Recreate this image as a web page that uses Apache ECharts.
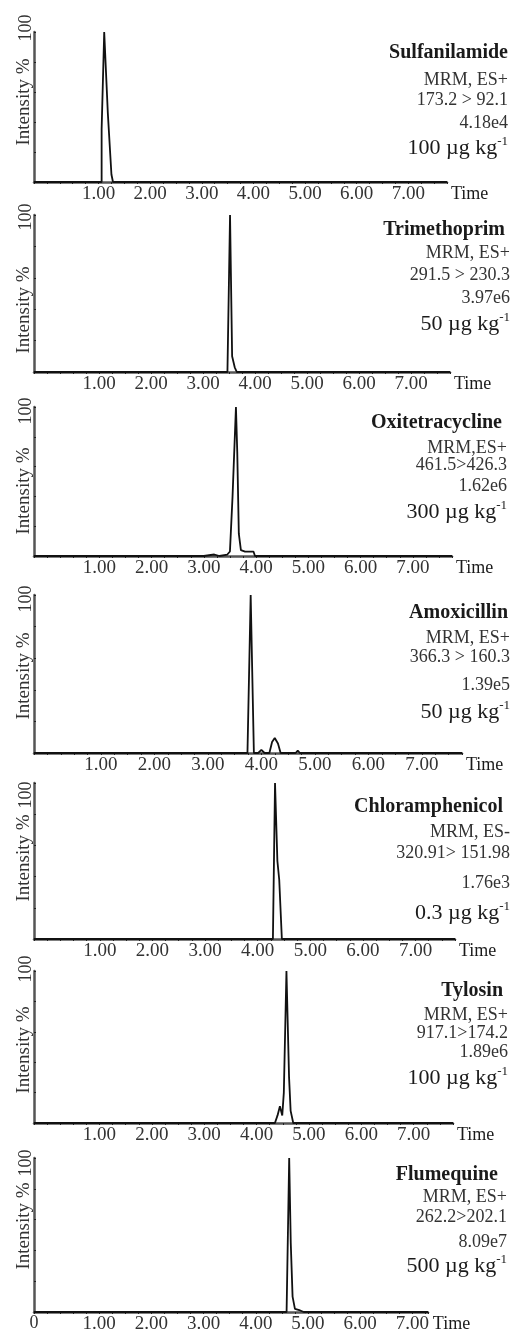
<!DOCTYPE html>
<html><head><meta charset="utf-8">
<script src="https://cdn.jsdelivr.net/npm/echarts@6/dist/echarts.min.js"></script>
<style>html,body{margin:0;padding:0;background:#fff}#c{width:517px;height:1334px}</style>
</head><body><div id="c"></div>
<script>
// ---- text content ----
const compounds = ['Sulfanilamide', 'Trimethoprim', 'Oxitetracycline', 'Amoxicillin', 'Chloramphenicol', 'Tylosin', 'Flumequine'];
const modes = ['MRM, ES+', 'MRM, ES+', 'MRM,ES+', 'MRM, ES+', 'MRM, ES-', 'MRM, ES+', 'MRM, ES+'];
const transitions = ['173.2 > 92.1', '291.5 > 230.3', '461.5>426.3', '366.3 > 160.3', '320.91> 151.98', '917.1>174.2', '262.2>202.1'];
const intensities = ['4.18e4', '3.97e6', '1.62e6', '1.39e5', '1.76e3', '1.89e6', '8.09e7'];
const concentrations = ['100', '50', '300', '50', '0.3', '100', '500'];
const xTickValues = [1, 2, 3, 4, 5, 6, 7];
const yTopLabel = '100';
const yAxisTitle = 'Intensity %';
const xAxisTitle = 'Time';

// ---- chromatogram traces (time, % intensity) ----
const sulfanilamideTime = [-0.25, 1.06, 1.06, 1.11, 1.14, 1.18, 1.25, 1.28, 7.75];
const sulfanilamideInt  = [0, 0, 35, 100, 100, 46, 5, 0, 0];
const trimethoprimTime = [-0.25, 3.47, 3.52, 3.56, 3.59, 3.61, 3.65, 7.75];
const trimethoprimInt  = [0, 0, 100, 10, 9, 3, 0, 0];
const oxitetracyclineTime = [-0.25, 3.00, 3.20, 3.30, 3.45, 3.50, 3.55, 3.615, 3.64, 3.67, 3.71, 3.79, 3.95, 3.98, 7.75];
const oxitetracyclineInt  = [0, 0, 1, 0, 1, 3, 40, 100, 70, 15, 4, 3, 3, 0, 0];
const amoxicillinTime = [-0.25, 3.74, 3.80, 3.86, 3.94, 4.00, 4.06, 4.15, 4.20, 4.25, 4.31, 4.36, 4.64, 4.68, 4.72, 7.75];
const amoxicillinInt  = [0, 0, 100, 0, 0, 2, 0, 0, 7, 9.5, 6, 0, 0, 1.5, 0, 0];
const chloramphenicolTime = [-0.25, 4.29, 4.31, 4.33, 4.375, 4.41, 4.46, 7.75];
const chloramphenicolInt  = [0, 0, 50, 100, 50, 38, 0, 0];
const tylosinTime = [-0.25, 4.35, 4.40, 4.445, 4.49, 4.52, 4.57, 4.62, 4.65, 4.70, 7.75];
const tylosinInt  = [0, 0, 5, 11, 5, 20, 100, 30, 8, 0, 0];
const flumequineTime = [-0.25, 4.59, 4.64, 4.67, 4.705, 4.75, 4.85, 4.92, 7.30];
const flumequineInt  = [0, 0, 100, 45, 10, 2, 1, 0, 0];

const traceTimes = [sulfanilamideTime, trimethoprimTime, oxitetracyclineTime, amoxicillinTime, chloramphenicolTime, tylosinTime, flumequineTime];
const traceInts = [sulfanilamideInt, trimethoprimInt, oxitetracyclineInt, amoxicillinInt, chloramphenicolInt, tylosinInt, flumequineInt];

// ---- layout (pixels) ----
const panelTop = [32, 215, 407, 595, 783, 971, 1158];
const panelBottom = [182, 372, 556, 753, 939, 1123, 1313];
const axisRight = [447, 450, 452, 462, 455, 453, 428];
const axisLeft = 34;
const xMin = -0.25;
const xMaxes = [7.75, 7.75, 7.75, 7.75, 7.75, 7.75, 7.30];
const textRight = [508, 510, 507, 510, 510, 508, 507];
const titleRight = [508, 505, 502, 508, 503, 503, 498];
const textRows = [
  [53, 80, 100, 123, 147],
  [230, 253, 275, 298, 323],
  [423, 448, 465, 486, 511],
  [613, 638, 657, 685, 711],
  [807, 832, 853, 883, 912],
  [991, 1015, 1033, 1052, 1077],
  [1175, 1197, 1217, 1242, 1265]
];
const top100Y = [28, 217, 411, 599, 795, 969, 1163];
const yTitleY = [102, 310, 491, 676, 858, 1050, 1226];

const FONT = '"Liberation Serif","Times New Roman",serif';
const INK = '#1a1a1a';

const grids = [], xAxes = [], yAxes = [], series = [], graphics = [];
for (let i = 0; i < 7; i++) {
  grids.push({ left: axisLeft, top: panelTop[i], width: axisRight[i] - axisLeft, height: panelBottom[i] - panelTop[i], containLabel: false });
  xAxes.push({
    type: 'value', gridIndex: i, min: xMin, max: xMaxes[i], interval: 0.25,
    axisLine: { show: true, onZero: false, lineStyle: { color: '#555', width: 2.5 } },
    axisTick: { show: true, length: 2, lineStyle: { color: '#222', width: 1 } },
    axisLabel: { customValues: xTickValues, formatter: v => Number(v).toFixed(2), fontFamily: FONT, fontSize: 19, color: '#333', margin: 3 },
    splitLine: { show: false },
    name: xAxisTitle, nameLocation: 'end', nameGap: 4,
    nameTextStyle: { fontFamily: FONT, fontSize: 18, color: INK, verticalAlign: 'top', align: 'left', padding: [3, 0, 0, 0] }
  });
  yAxes.push({
    type: 'value', gridIndex: i, min: 0, max: 100, interval: 20,
    axisLine: { show: true, onZero: false, lineStyle: { color: '#555', width: 2.5 } },
    axisTick: { show: true, inside: true, length: 2, lineStyle: { color: '#222' } },
    axisLabel: { show: false }, splitLine: { show: false }
  });
  series.push({
    type: 'line', xAxisIndex: i, yAxisIndex: i, name: compounds[i],
    data: traceTimes[i].map((t, k) => [t, traceInts[i][k]]),
    symbol: 'none', showSymbol: false, smooth: false,
    lineStyle: { color: '#111', width: 1.8 }, animation: false
  });
  const r = textRows[i];
  graphics.push({ type: 'text', x: titleRight[i], y: r[0], style: { text: compounds[i], font: 'bold 20px ' + FONT, fill: INK, align: 'right', verticalAlign: 'middle' } });
  graphics.push({ type: 'text', x: textRight[i], y: r[1], style: { text: modes[i], font: '18px ' + FONT, fill: '#333', align: 'right', verticalAlign: 'middle' } });
  graphics.push({ type: 'text', x: textRight[i], y: r[2], style: { text: transitions[i], font: '18px ' + FONT, fill: '#333', align: 'right', verticalAlign: 'middle' } });
  graphics.push({ type: 'text', x: textRight[i], y: r[3], style: { text: intensities[i], font: '18px ' + FONT, fill: '#333', align: 'right', verticalAlign: 'middle' } });
  graphics.push({ type: 'text', x: textRight[i], y: r[4], style: {
    text: '{m|' + concentrations[i] + ' µg kg}{s|-1}', align: 'right', verticalAlign: 'middle',
    rich: { m: { fontFamily: FONT, fontSize: 22, fill: INK, color: INK, lineHeight: 24, verticalAlign: 'bottom' },
            s: { fontFamily: FONT, fontSize: 13, fill: INK, color: INK, lineHeight: 24, verticalAlign: 'top', padding: [0, 0, 8, 0] } }
  } });
  graphics.push({ type: 'text', x: 26, y: top100Y[i], rotation: Math.PI / 2, style: { text: yTopLabel, font: '18px ' + FONT, fill: '#333', align: 'center', verticalAlign: 'middle' } });
  graphics.push({ type: 'text', x: 24, y: yTitleY[i], rotation: Math.PI / 2, style: { text: yAxisTitle, font: '19px ' + FONT, fill: '#333', align: 'center', verticalAlign: 'middle' } });
}
graphics.push({ type: 'text', x: 34, y: 1323, style: { text: '0', font: '18px ' + FONT, fill: '#333', align: 'center', verticalAlign: 'middle' } });

const chart = echarts.init(document.getElementById('c'), null, { renderer: 'canvas' });
chart.setOption({
  backgroundColor: '#fff', animation: false,
  grid: grids, xAxis: xAxes, yAxis: yAxes, series: series, graphic: graphics
});
</script></body></html>
